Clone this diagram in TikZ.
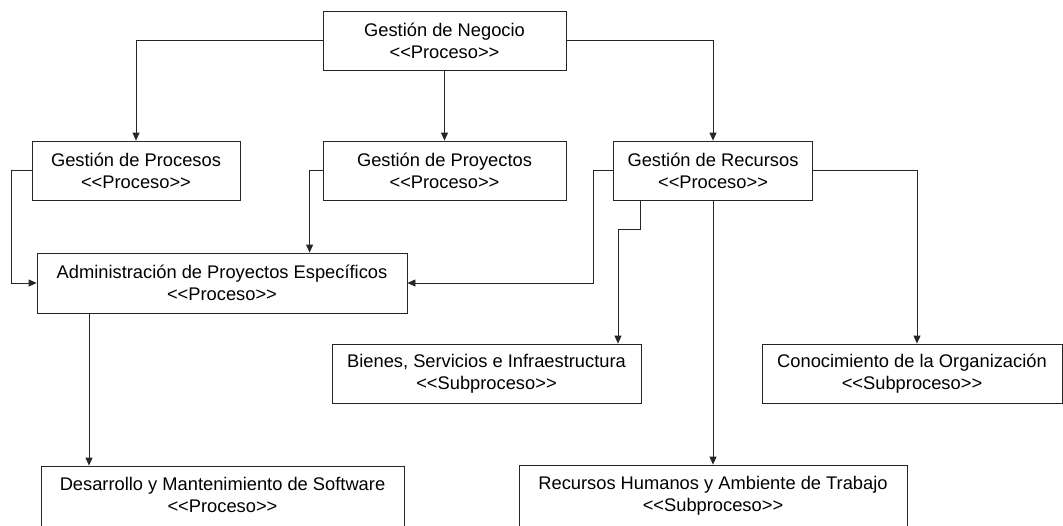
\documentclass[tikz,border=0pt]{standalone}
\usepackage{fontspec}
\setmainfont{Liberation Sans}
\usetikzlibrary{arrows.meta}
% stereotype label, written with plain angle brackets
\newcommand{\stereo}[1]{<{}<#1>{}>}
\begin{document}
\begin{tikzpicture}[x=1pt,y=-1pt,
  procbox/.style={draw=black!85, line width=0.8pt, rectangle, inner sep=0pt,
    align=center, font=\fontsize{18.3}{22}\selectfont, text=black},
  conn/.style={draw=black!85, line width=0.8pt,
    -{Triangle[length=8pt,width=7pt]}}]
  \useasboundingbox (0,0) rectangle (1063,525);
  \clip (0,0) rectangle (1063,525);

  % processes
  \node[procbox, minimum width=243, minimum height=59] (neg) at (444.5,40.5)
    {Gestión de Negocio\\\stereo{Proceso}};
  \node[procbox, minimum width=208, minimum height=59] (proc) at (136,170.5)
    {Gestión de Procesos\\\stereo{Proceso}};
  \node[procbox, minimum width=243, minimum height=59] (proy) at (444.5,170.5)
    {Gestión de Proyectos\\\stereo{Proceso}};
  \node[procbox, minimum width=199, minimum height=59] (rec) at (713,170.5)
    {Gestión de Recursos\\\stereo{Proceso}};
  \node[procbox, minimum width=370, minimum height=60] (adm) at (222,283)
    {Administración de Proyectos Específicos\\\stereo{Proceso}};
  \node[procbox, minimum width=309, minimum height=59] (bie) at (486.5,373.5)
    {Bienes, Servicios e Infraestructura\\\stereo{Subproceso}};
  \node[procbox, minimum width=300, minimum height=59] (con) at (912,373.5)
    {Conocimiento de la Organización\\\stereo{Subproceso}};
  \node[procbox, minimum width=363, minimum height=66, text depth=8pt] (des) at (222.5,499)
    {Desarrollo y Mantenimiento de Software\\\stereo{Proceso}};
  \node[procbox, minimum width=388, minimum height=66, text depth=8pt] (rh) at (713,498)
    {Recursos Humanos y Ambiente de Trabajo\\\stereo{Subproceso}};

  % connectors
  \draw[conn] (neg.west) -| (proc.north);
  \draw[conn] (neg.south) -- (proy.north);
  \draw[conn] (neg.east) -| (rec.north);

  \draw[conn] (proc.west) -- ++(-20,0) |- (adm.west);
  \draw[conn] (proy.west) -- ++(-13,0) coordinate (pw) -- (pw |- adm.north);
  \draw[conn] (rec.west) -- ++(-20,0) |- (adm.east);

  \draw[conn] ([xshift=-73]rec.south) -- ++(0,29) -- ++(-22,0) coordinate (bw)
    -- (bw |- bie.north);
  \draw[conn] (rec.south) -- (rh.north);
  \draw[conn] (rec.east) -| ([xshift=5]con.north);

  \draw[conn] ([xshift=-133]adm.south) -- ([xshift=-133.5]des.north);
\end{tikzpicture}
\end{document}
